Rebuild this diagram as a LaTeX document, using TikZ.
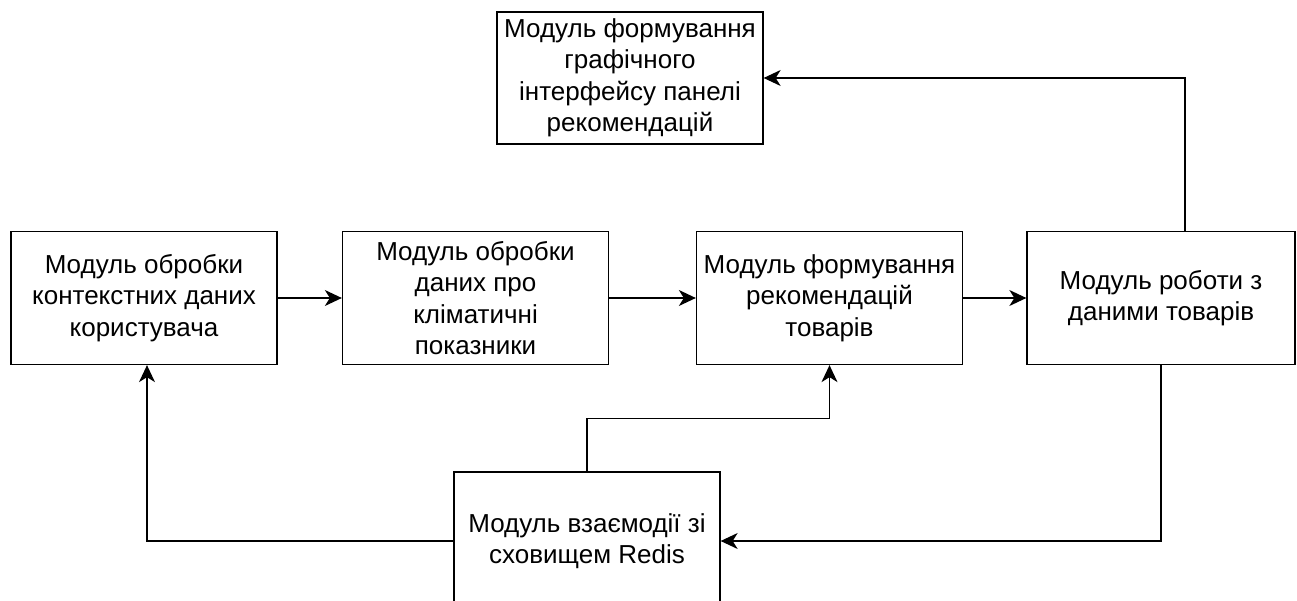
\documentclass[tikz,border=0pt]{standalone}
\usepackage{fontspec}
\setmainfont{Liberation Sans}
\usetikzlibrary{arrows.meta,positioning,calc}

\begin{document}
\begin{tikzpicture}[x=1pt,y=1pt,
  modbox/.style={draw,line width=1.3pt,inner sep=0pt,minimum width=266pt,
    minimum height=133pt,align=center,font=\fontsize{26}{31.5}\selectfont},
  conn/.style={line width=1.3pt,-{Stealth[length=17pt,width=16pt,inset=5pt]}}]
  \useasboundingbox (0,0) rectangle (1297,600);
  \clip (0,0) rectangle (1297,600);
  \node[modbox,minimum height=132pt] (ui) at (630,522)
    {Модуль формування\\графічного\\інтерфейсу панелі\\рекомендацій};
  \node[modbox] (ctx) at (144,302)
    {Модуль обробки\\контекстних даних\\користувача};
  \node[modbox] (clim) at (475.5,302)
    {Модуль обробки\\даних про\\кліматичні\\показники};
  \node[modbox] (rec) at (829.5,302)
    {Модуль формування\\рекомендацій\\товарів};
  \node[modbox,minimum width=268pt] (goods) at (1161,302)
    {Модуль роботи з\\даними товарів};
  \node[modbox,minimum height=138pt] (redis) at (587,59)
    {Модуль взаємодії зі\\сховищем Redis};
  \draw[conn] (ctx) -- (clim);
  \draw[conn] (clim) -- (rec);
  \draw[conn] (rec) -- (goods);
  \draw[conn] ([xshift=24pt]goods.north) |- (ui.east);
  \draw[conn] (goods.south) |- (redis.east);
  \draw[conn] (redis.north) -- ++(0,53) -| (rec.south);
  \draw[conn] (redis.west) -| ([xshift=3pt]ctx.south);
\end{tikzpicture}
\end{document}
